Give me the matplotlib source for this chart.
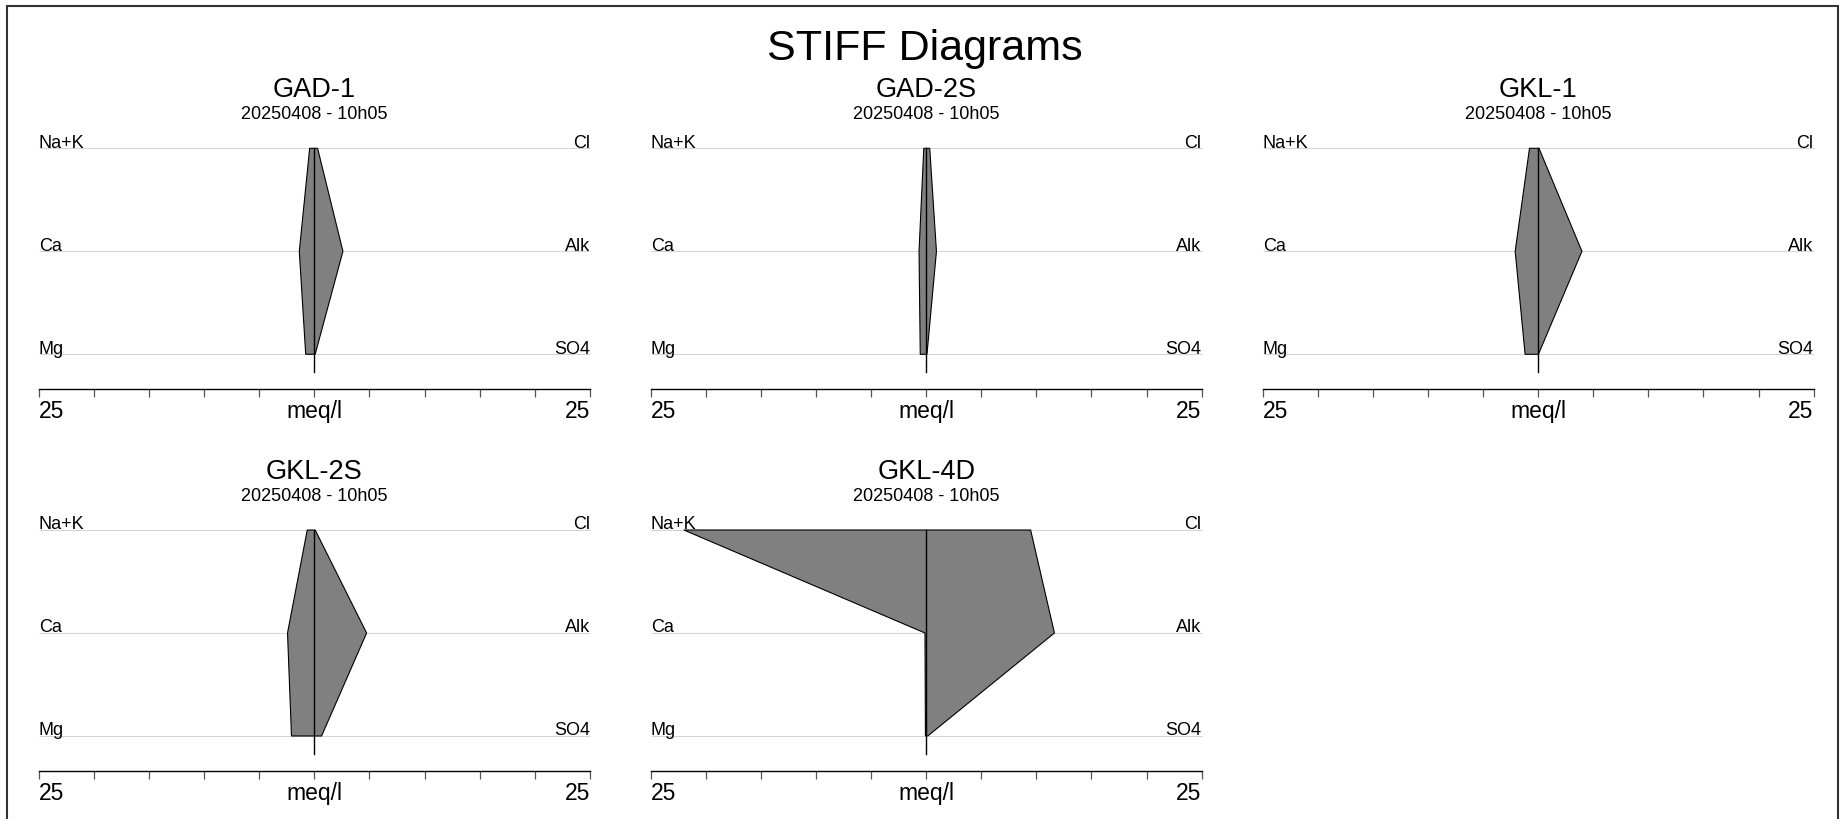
import matplotlib
matplotlib.use("Agg")
import matplotlib.pyplot as plt
from matplotlib.patches import Polygon, Rectangle

plt.rcParams['font.family'] = ['Liberation Sans', 'DejaVu Sans']

# ---------------- data (meq/l) ----------------
samples = ["GAD-1", "GAD-2S", "GKL-1", "GKL-2S", "GKL-4D"]
dates = ["20250408 - 10h05"] * 5
cation_names = ["Na+K", "Ca", "Mg"]
anion_names = ["Cl", "Alk", "SO4"]
na_k = [0.43, 0.22, 0.79, 0.65, 22.0]
ca = [1.37, 0.65, 2.09, 2.44, 0.11]
mg = [0.79, 0.54, 1.19, 2.08, 0.07]
cl = [0.29, 0.32, 0.07, 0.07, 9.48]
alk = [2.59, 0.93, 3.97, 4.74, 11.64]
so4 = [0.07, 0.07, 0.02, 0.65, 0.14]
x_max = 25
tick_step = 5
unit_label = "meq/l"
main_title = "STIFF Diagrams"

# ---------------- layout (pixels) ----------------
W, H = 1843, 819
fig = plt.figure(figsize=(W / 100, H / 100), dpi=100)

col_centers = [314.4, 926.2, 1538.2]
half_w = 275.4
row_top_line = [148.3, 530.0]   # y of Na+K line
spacing = 103.0                  # between ion lines
axis_gap = 35.0                  # Mg line -> axis line
center_ext = 18.0                # center line below Mg


def fx(px):
    return px / W


def fy(py):
    return 1 - py / H


for i, name in enumerate(samples):
    r, c = divmod(i, 3)
    cx = col_centers[c]
    top = row_top_line[r]
    mg_y = top + 2 * spacing
    bottom = mg_y + axis_gap
    ax = fig.add_axes([fx(cx - half_w), fy(bottom), 2 * half_w / W, (bottom - top) / H])
    ax.set_xlim(-x_max, x_max)
    lo = -axis_gap / spacing
    ax.set_ylim(lo, 2)
    for s in ["top", "left", "right"]:
        ax.spines[s].set_visible(False)
    ax.spines["bottom"].set_color("black")
    ax.spines["bottom"].set_linewidth(1.0)
    ax.set_yticks([])
    ax.set_xticks(range(-x_max, x_max + 1, tick_step))
    ax.tick_params(axis="x", direction="out", length=5.5, width=0.9,
                   color="#555555", labelbottom=False)
    ax.patch.set_visible(False)

    levels = [2, 1, 0]
    ax.hlines(levels, -x_max, x_max, color="#d2d2d2", lw=0.7, zorder=1, clip_on=False)

    poly_pts = [(-na_k[i], 2), (-ca[i], 1), (-mg[i], 0),
                (so4[i], 0), (alk[i], 1), (cl[i], 2)]
    ax.add_patch(Polygon(poly_pts, closed=True, facecolor="#808080",
                         edgecolor="black", lw=0.8, zorder=2, clip_on=False))
    ax.plot([0, 0], [2, -center_ext / spacing], color="black", lw=1.0,
            zorder=3, clip_on=False)

    for lvl, cn, an in zip(levels, cation_names, anion_names):
        ax.text(-x_max, lvl + 0.006, cn, ha="left", va="baseline", fontsize=13,
                zorder=4, clip_on=False)
        ax.text(x_max, lvl + 0.006, an, ha="right", va="baseline", fontsize=13,
                zorder=4, clip_on=False)

    lab_y = fy(bottom + 29.0)
    fig.text(fx(cx - half_w), lab_y, str(x_max), ha="left", va="baseline", fontsize=16.5)
    fig.text(fx(cx + half_w), lab_y, str(x_max), ha="right", va="baseline", fontsize=16.5)
    fig.text(fx(cx), lab_y, unit_label, ha="center", va="baseline", fontsize=16.5)

    fig.text(fx(cx), fy(top - 51.0), name, ha="center", va="baseline", fontsize=19.5)
    fig.text(fx(cx), fy(top - 29.0), dates[i], ha="center", va="baseline", fontsize=13)

fig.text(fx(925), fy(60), main_title, ha="center", va="baseline", fontsize=31)

# outer frame (bottom edge lies outside the image)
fig.patches.append(Rectangle((fx(7), fy(830)), fx(1838 - 7), (830 - 6) / H,
                             transform=fig.transFigure, fill=False,
                             edgecolor="#333333", lw=1.5))

fig.savefig("out.png", dpi=100, facecolor="white")
